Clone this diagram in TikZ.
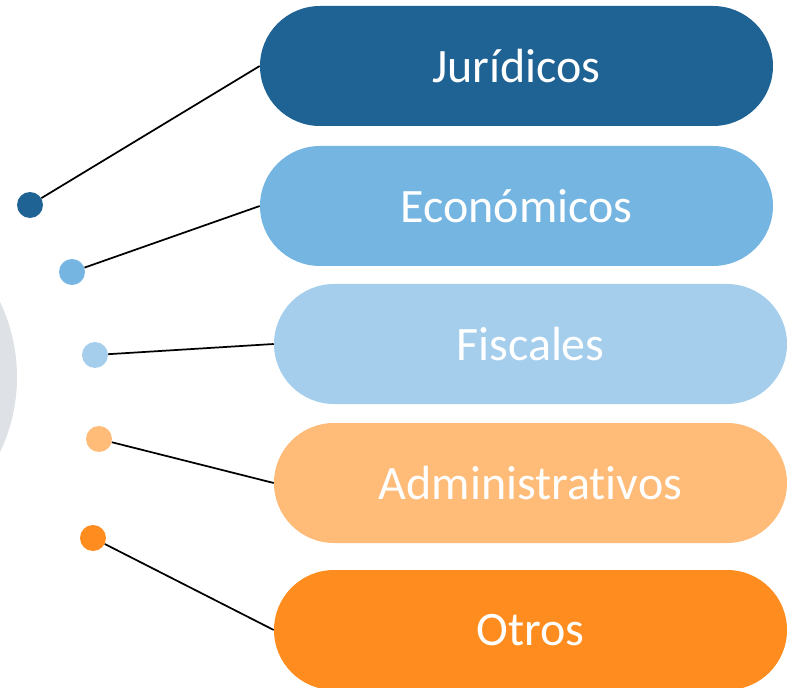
\documentclass[tikz,border=0pt]{standalone}
\usepackage{fontspec}
\setmainfont{Carlito}[Ligatures=NoCommon]

\definecolor{juridicoblue}{RGB}{31,99,148}
\definecolor{economicoblue}{RGB}{117,181,226}
\definecolor{fiscalblue}{RGB}{165,206,237}
\definecolor{adminorange}{RGB}{255,187,120}
\definecolor{otrosorange}{RGB}{255,140,30}
\definecolor{centergray}{RGB}{222,225,229}

\tikzset{
  pill/.style={rounded corners=45pt, minimum width=384.75pt, minimum height=90pt,
    inner sep=0pt, text=white, font=\fontsize{36}{43}\selectfont},
  dot/.style={circle, minimum size=19.5pt, inner sep=0pt},
  link/.style={line width=1.3pt, black}
}

\begin{document}
\begin{tikzpicture}[x=0.75pt, y=-0.75pt]

    % --- Page frame ---
    \useasboundingbox (0,0) rectangle (790,688);
    \clip (0,0) rectangle (790,688);

    % Big gray circle at the left edge (mostly off the page)
    \fill[centergray] (-157,377) circle[radius=130.5pt];

    % --- Define Boxes ---
    \node[pill, fill=juridicoblue] (b1) at (516.5,66) {Jurídicos};
    \node[pill, fill=economicoblue] (b2) at (516.5,206) {Económicos};
    \node[pill, fill=fiscalblue] (b3) at (530.5,344) {Fiscales};
    \node[pill, fill=adminorange] (b4) at (530.5,483) {Administrativos};
    \node[pill, fill=otrosorange] (b5) at (530.5,630) {Otros};

    % --- Define Dots ---
    \node[dot, fill=juridicoblue] (d1) at (30,205) {};
    \node[dot, fill=economicoblue] (d2) at (72,272) {};
    \node[dot, fill=fiscalblue] (d3) at (95,355) {};
    \node[dot, fill=adminorange] (d4) at (99,439) {};
    \node[dot, fill=otrosorange] (d5) at (93,538) {};

    % --- Draw Connectors ---
    \draw[link] (d1) -- (b1.west);
    \draw[link] (d2) -- (b2.west);
    \draw[link] (d3) -- (b3.west);
    \draw[link] (d4) -- (b4.west);
    \draw[link] (d5) -- (b5.west);

\end{tikzpicture}
\end{document}
